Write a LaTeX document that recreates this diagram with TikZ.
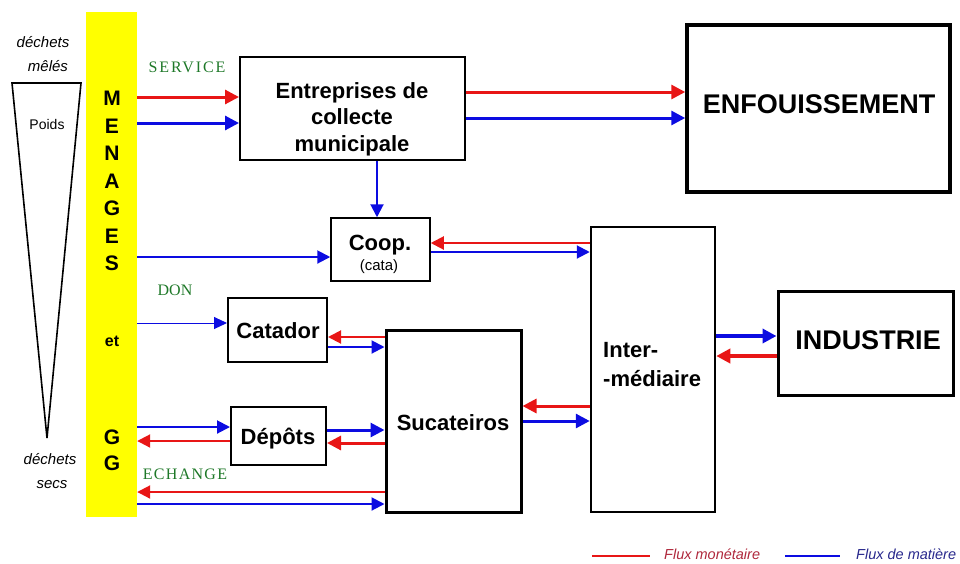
\documentclass[tikz,border=0pt]{standalone}
\usepackage{fontspec}
\setmainfont{Liberation Sans}
\newfontfamily\serifg{Liberation Serif}
\usetikzlibrary{arrows.meta}
\definecolor{myred}{RGB}{232,22,22}
\definecolor{myblue}{RGB}{12,12,225}
\definecolor{mygreen}{RGB}{30,120,40}
\definecolor{myyellow}{RGB}{255,255,0}
\definecolor{legred}{RGB}{175,40,60}
\definecolor{legblue}{RGB}{40,40,140}
\begin{document}
\begin{tikzpicture}[x=1pt,y=-1pt,
  box/.style={draw,line width=2pt,inner sep=0pt,fill=white},
  lbl/.style={font=\fontsize{22}{26.5}\selectfont\bfseries,anchor=base,inner sep=0pt},
  big/.style={font=\fontsize{27}{30}\selectfont\bfseries,anchor=base,inner sep=0pt},
  barletter/.style={font=\fontsize{21}{24}\selectfont\bfseries,anchor=base,inner sep=0pt},
  side/.style={font=\fontsize{15}{18}\selectfont\itshape,anchor=base,inner sep=0pt},
  flowlbl/.style={font=\fontsize{16}{18}\selectfont\serifg,text=mygreen,anchor=base,inner sep=0pt},
  rarr/.style={draw=myred,line width=3pt,-{Triangle[length=14pt,width=14pt]}},
  barr/.style={draw=myblue,line width=3pt,-{Triangle[length=14pt,width=14pt]}},
  rarrs/.style={draw=myred,line width=2pt,-{Triangle[length=13pt,width=13pt]}},
  barrs/.style={draw=myblue,line width=2pt,-{Triangle[length=13pt,width=13pt]}},
  thinarr/.style={draw=myblue,line width=1pt,-{Triangle[length=13pt,width=12pt]}}
]
\useasboundingbox (0,0) rectangle (960,563);

% yellow bar
\node[fill=myyellow,inner sep=0pt,minimum width=51pt,minimum height=505pt] (bar) at (111.5,264.5) {};
\node[barletter] (m1) at (112,105.5) {M};
\node[barletter] (m2) at (112,133) {E};
\node[barletter] (m3) at (112,160.5) {N};
\node[barletter] (m4) at (112,188) {A};
\node[barletter] (m5) at (112,215.5) {G};
\node[barletter] (m6) at (112,243) {E};
\node[barletter] (m7) at (112,270.5) {S};
\node[font=\fontsize{16}{18}\selectfont\bfseries,anchor=base,inner sep=0pt] (et) at (112,346) {et};
\node[barletter] (g1) at (112,444.5) {G};
\node[barletter] (g2) at (112,470.5) {G};

% weight triangle
\coordinate (tl) at (12,83);
\coordinate (tr) at (81,83);
\coordinate (tb) at (47,438);
\draw[line width=1.6pt,line join=miter] (tl) -- (tr) -- (tb) -- cycle;
\node[font=\fontsize{14}{16}\selectfont,anchor=base,inner sep=0pt] (poids) at (47,129) {Poids};
\node[side] (dm1) at (43,47) {déchets};
\node[side] (dm2) at (48,71) {mêlés};
\node[side] (ds1) at (50,464) {déchets};
\node[side] (ds2) at (52,488) {secs};

% boxes
\node[box,minimum width=225pt,minimum height=103pt] (ent) at (352.5,108.5) {};
\node[box,line width=3.5pt,minimum width=263pt,minimum height=167pt] (enf) at (818.5,108.5) {};
\node[box,line width=1.5pt,minimum width=99pt,minimum height=63pt] (coop) at (380.5,249.5) {};
\node[box,line width=2.5pt,minimum width=124pt,minimum height=285pt] (inter) at (653,369.5) {};
\node[box,line width=3pt,minimum width=175pt,minimum height=104pt] (ind) at (865.5,343) {};
\node[box,minimum width=99pt,minimum height=64pt] (cat) at (277.5,330) {};
\node[box,minimum width=95pt,minimum height=58pt] (dep) at (278.5,436) {};
\node[box,line width=3pt,minimum width=135pt,minimum height=182pt] (suc) at (453.5,421) {};

% box texts (base anchor = baseline of the last line)
\node[lbl,align=center] (entt) at (352,151) {Entreprises de\\collecte\\municipale};
\node[big] (enft) at (819,113) {ENFOUISSEMENT};
\node[lbl] (coopt) at (380,250) {Coop.};
\node[font=\fontsize{15}{17}\selectfont,anchor=base,inner sep=0pt] (catat) at (379,270) {(cata)};
\node[lbl,anchor=base west,align=left,font=\fontsize{22}{29}\selectfont\bfseries] (intert) at (603,386) {Inter-\\-médiaire};
\node[big] (indt) at (868,349) {INDUSTRIE};
\node[lbl] (catt) at (278,338) {Catador};
\node[lbl] (dept) at (278,444) {Dépôts};
\node[lbl] (suct) at (453,430) {Sucateiros};

% flow labels
\node[flowlbl,font=\fontsize{16}{18}\selectfont\serifg\addfontfeature{LetterSpace=12}] (service) at (187,72) {SERVICE};
\node[flowlbl] (don) at (175,295) {DON};
\node[flowlbl,font=\fontsize{16}{18}\selectfont\serifg\addfontfeature{LetterSpace=8}] (echange) at (185,479) {ECHANGE};

% arrows
\draw[rarr] (bar.east |- 0,97) -- (ent.west |- 0,97);
\draw[barr] (bar.east |- 0,123) -- (ent.west |- 0,123);
\draw[rarr] (ent.east |- 0,92) -- (enf.west |- 0,92);
\draw[barr] (ent.east |- 0,118) -- (enf.west |- 0,118);
\draw[barrs] (ent.south -| 377,0) -- (coop.north -| 377,0);
\draw[barrs] (bar.east |- 0,257) -- (coop.west |- 0,257);
\draw[rarrs] (inter.west |- 0,243) -- (coop.east |- 0,243);
\draw[barrs] (coop.east |- 0,252) -- (inter.west |- 0,252);
\draw[thinarr] (bar.east |- 0,323) -- (cat.west |- 0,323);
\draw[rarrs] (suc.west |- 0,337) -- (cat.east |- 0,337);
\draw[barrs] (cat.east |- 0,347) -- (suc.west |- 0,347);
\draw[barrs] (bar.east |- 0,427) -- (dep.west |- 0,427);
\draw[rarrs] (dep.west |- 0,441) -- (bar.east |- 0,441);
\draw[barr] (dep.east |- 0,430) -- (suc.west |- 0,430);
\draw[rarr] (suc.west |- 0,443) -- (dep.east |- 0,443);
\draw[rarrs] (suc.west |- 0,492) -- (bar.east |- 0,492);
\draw[barrs] (bar.east |- 0,504) -- (suc.west |- 0,504);
\draw[rarr] (inter.west |- 0,406) -- (suc.east |- 0,406);
\draw[barr] (suc.east |- 0,421) -- (inter.west |- 0,421);
\draw[barr,line width=4pt] (inter.east |- 0,336) -- (ind.west |- 0,336);
\draw[rarr,line width=4pt] (ind.west |- 0,356) -- (inter.east |- 0,356);

% legend
\coordinate (lr1) at (592,556);
\coordinate (lr2) at (650,556);
\coordinate (lb1) at (785,556);
\coordinate (lb2) at (840,556);
\draw[myred,line width=2.5pt] (lr1) -- (lr2);
\draw[myblue,line width=2.5pt] (lb1) -- (lb2);
\node[font=\fontsize{14.5}{16}\selectfont\itshape,text=legred,anchor=base west,inner sep=0pt] (leg1) at (664,559) {Flux monétaire};
\node[font=\fontsize{14.5}{16}\selectfont\itshape,text=legblue,anchor=base west,inner sep=0pt] (leg2) at (856,559) {Flux de matière};
\end{tikzpicture}
\end{document}
